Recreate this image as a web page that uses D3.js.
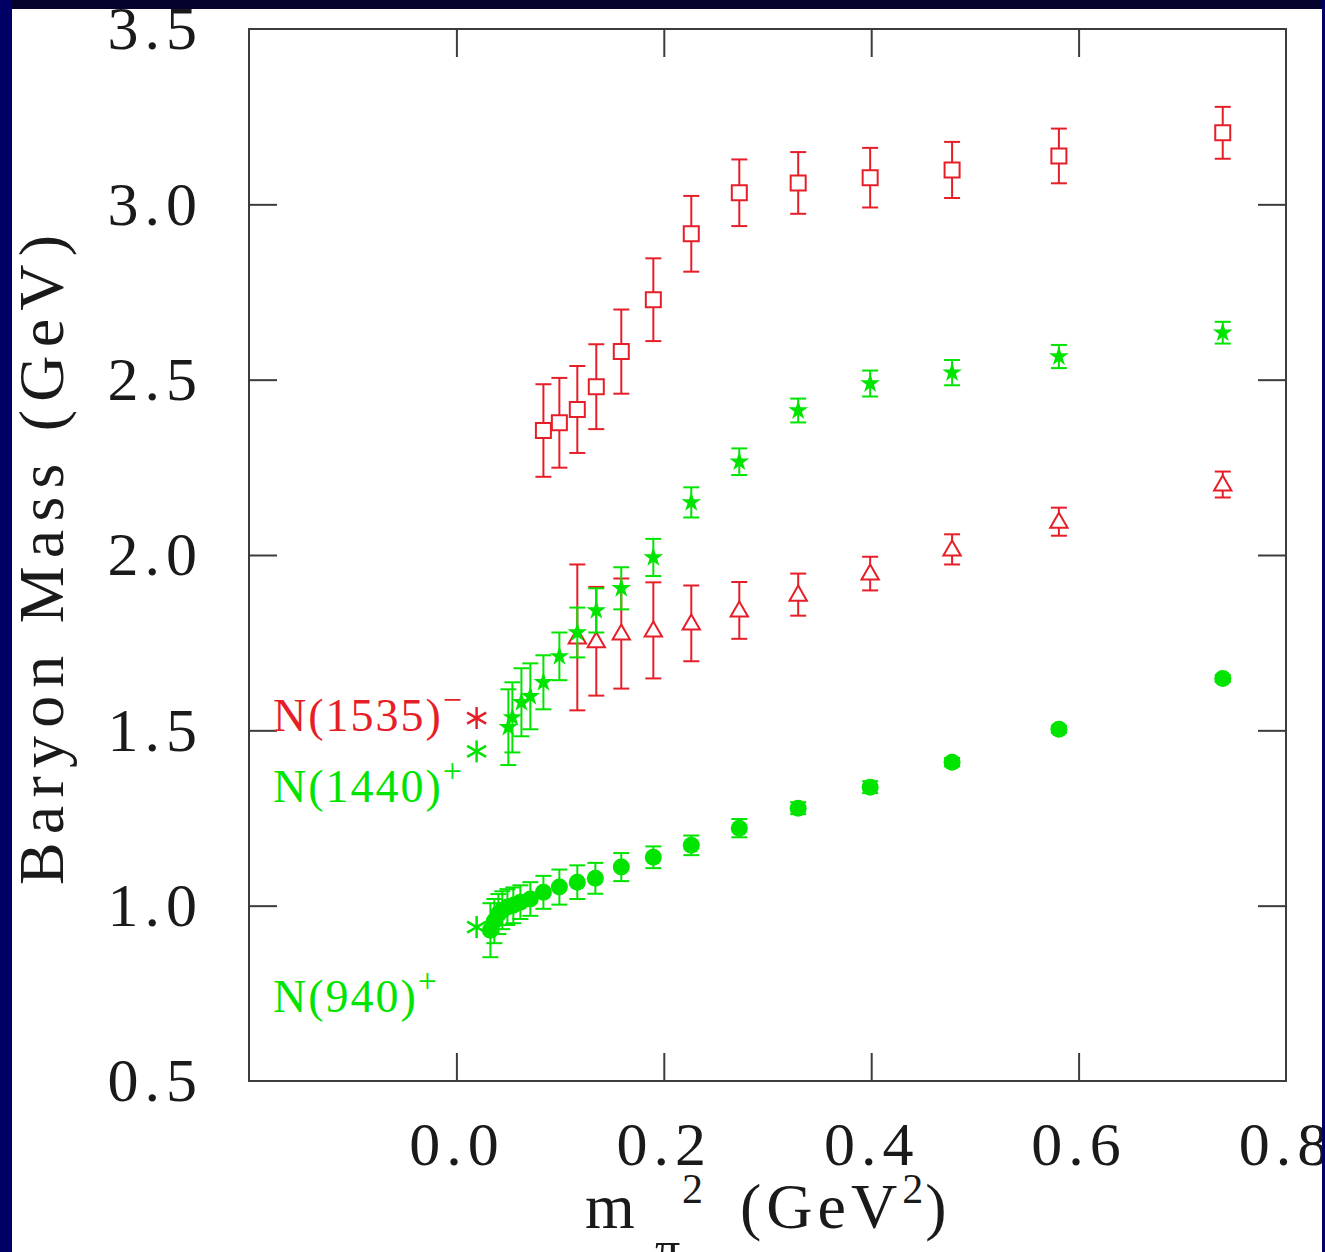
<!DOCTYPE html>
<html>
<head>
<meta charset="utf-8">
<script src="https://cdn.jsdelivr.net/npm/d3@7"></script>
<style>
  html, body { margin: 0; padding: 0; background: #000050; }
  svg { display: block; }
</style>
</head>
<body>
<script>
// ---------- data ----------
const xTicks = [0.0, 0.2, 0.4, 0.6, 0.8];
const yTicks = [0.5, 1.0, 1.5, 2.0, 2.5, 3.0, 3.5];

// nucleon N(940)+ : filled green circles
const nucleonX   = [0.0328,0.0366,0.0405,0.0443,0.0492,0.0549,0.0617,0.0713,0.0839,0.0993,0.1166,0.1340,0.1590,0.1899,0.2265,0.2728,0.3296,0.3990,0.4780,0.5810,0.7390];
const nucleonM   = [0.930,0.956,0.976,0.987,0.996,1.001,1.010,1.019,1.038,1.053,1.067,1.078,1.110,1.138,1.172,1.221,1.278,1.338,1.409,1.503,1.648];
const nucleonErr = [0.077,0.063,0.057,0.054,0.051,0.051,0.048,0.048,0.047,0.050,0.048,0.044,0.040,0.031,0.028,0.026,0.017,0.017,0.012,0.010,0.010];

// first positive-parity excitation N(1440)+ : filled green stars
const roperX   = [0.0501,0.0540,0.0627,0.0713,0.0839,0.0993,0.1166,0.1349,0.1590,0.1899,0.2265,0.2728,0.3296,0.3990,0.4780,0.5810,0.7390];
const roperM   = [1.509,1.537,1.580,1.597,1.637,1.711,1.779,1.842,1.905,1.993,2.150,2.266,2.412,2.489,2.520,2.566,2.634];
const roperErr = [0.108,0.100,0.097,0.094,0.077,0.068,0.071,0.063,0.060,0.053,0.043,0.038,0.034,0.037,0.036,0.033,0.031];

// negative parity N(1535)- : open red triangles
const s11X   = [0.1166,0.1349,0.1590,0.1899,0.2265,0.2728,0.3296,0.3990,0.4780,0.5810,0.7390];
const s11M   = [1.765,1.754,1.776,1.785,1.805,1.842,1.887,1.947,2.016,2.095,2.201];
const s11Err = [0.208,0.155,0.157,0.137,0.108,0.081,0.060,0.048,0.043,0.040,0.037];

// higher negative parity state : open red squares
const sqX   = [0.0839,0.0993,0.1166,0.1349,0.1590,0.1899,0.2265,0.2728,0.3296,0.3990,0.4780,0.5810,0.7390];
const sqM   = [2.355,2.377,2.415,2.480,2.580,2.728,2.916,3.033,3.061,3.076,3.098,3.138,3.204];
const sqErr = [0.132,0.128,0.124,0.121,0.120,0.118,0.108,0.095,0.088,0.085,0.080,0.078,0.074];

// physical points (asterisks)
const physX = 0.0195;
const physNames  = ["N(1535)", "N(1440)", "N(940)"];
const physSup    = ["\u2212", "+", "+"];
const physMasses = [1.535, 1.44, 0.939];
const physColors = ["red", "green", "green"];

// ---------- drawing ----------
const W = 1325, H = 1252;
const RED = "#e61e28", GREEN = "#00e400";
const colorOf = c => c === "red" ? RED : GREEN;
const FONT = "'Liberation Serif', 'Times New Roman', serif";

const svg = d3.select("body").append("svg").attr("width", W).attr("height", H);
svg.append("rect").attr("width", W).attr("height", H).attr("fill", "#000060");
svg.append("rect").attr("x", 12).attr("y", 9).attr("width", 1310).attr("height", H - 9).attr("fill", "#ffffff");

const L = 249, R = 1286, T = 29, B = 1081;
const x = d3.scaleLinear().domain([-0.2, 0.8]).range([L, R]);
const y = d3.scaleLinear().domain([0.5, 3.5]).range([B, T]);

// frame
svg.append("rect").attr("x", L).attr("y", T).attr("width", R - L).attr("height", B - T)
  .attr("fill", "none").attr("stroke", "#3c3c3c").attr("stroke-width", 2);

function styleAxis(g) {
  g.select(".domain").remove();
  g.selectAll(".tick line").attr("stroke", "#3c3c3c").attr("stroke-width", 2);
  g.selectAll("text").attr("font-family", FONT).attr("font-size", 62)
    .attr("fill", "#1a1a1a").style("letter-spacing", "6px");
}
const inner = [0.0, 0.2, 0.4, 0.6];
const innerY = [1.0, 1.5, 2.0, 2.5, 3.0];

svg.append("g").attr("transform", `translate(0,${B})`)
  .call(d3.axisBottom(x).tickValues(xTicks).tickSize(-28).tickSizeOuter(0).tickPadding(40).tickFormat(d3.format(".1f")))
  .call(styleAxis)
  .call(g => g.selectAll(".tick").filter(d => d === 0.8).select("line").remove())
  .call(g => g.selectAll("text").attr("dx", 0));
svg.append("g").attr("transform", `translate(0,${T})`)
  .call(d3.axisTop(x).tickValues(inner).tickSize(-28).tickSizeOuter(0).tickFormat(""))
  .call(styleAxis);
svg.append("g").attr("transform", `translate(${L},0)`)
  .call(d3.axisLeft(y).tickValues(yTicks).tickSize(-28).tickSizeOuter(0).tickPadding(46).tickFormat(d3.format(".1f")))
  .call(styleAxis)
  .call(g => g.selectAll(".tick").filter(d => d === 0.5 || d === 3.5).select("line").remove());
svg.append("g").attr("transform", `translate(${R},0)`)
  .call(d3.axisRight(y).tickValues(innerY).tickSize(-28).tickSizeOuter(0).tickFormat(""))
  .call(styleAxis);

// axis titles
svg.append("text")
  .attr("transform", `translate(63,${(235 + 885) / 2}) rotate(-90)`)
  .attr("text-anchor", "middle").attr("font-family", FONT).attr("font-size", 64).attr("fill", "#1a1a1a")
  .attr("textLength", 650).attr("lengthAdjust", "spacing")
  .text("Baryon Mass (GeV)");

const xt = svg.append("g").attr("font-family", FONT).attr("fill", "#1a1a1a");
xt.append("text").attr("x", 585).attr("y", 1228).attr("font-size", 64).text("m");
xt.append("text").attr("x", 655).attr("y", 1266).attr("font-size", 50).text("\u03c0");
xt.append("text").attr("x", 682).attr("y", 1203).attr("font-size", 42).text("2");
const gev = xt.append("text").attr("x", 740).attr("y", 1228).attr("font-size", 64).style("letter-spacing", "5px");
gev.append("tspan").text("(GeV");
gev.append("tspan").attr("dy", -25).attr("font-size", 42).style("letter-spacing", "2px").text("2");
gev.append("tspan").attr("dy", 25).text(")");

// error bars + markers
function errorBars(xs, ms, es, color) {
  const g = svg.append("g").attr("stroke", color).attr("stroke-width", 2).attr("fill", "none");
  xs.forEach((xv, i) => {
    const e = es[i];
    if (!(e > 0)) return;
    const cx = x(xv), y0 = y(ms[i] - e), y1 = y(ms[i] + e);
    g.append("line").attr("x1", cx).attr("x2", cx).attr("y1", y0).attr("y2", y1);
    g.append("line").attr("x1", cx - 8).attr("x2", cx + 8).attr("y1", y0).attr("y2", y0);
    g.append("line").attr("x1", cx - 8).attr("x2", cx + 8).attr("y1", y1).attr("y2", y1);
  });
}

// squares
errorBars(sqX, sqM, sqErr, RED);
svg.append("g").selectAll("path").data(sqX).join("path")
  .attr("d", d3.symbol(d3.symbolSquare, 225))
  .attr("transform", (d, i) => `translate(${x(d)},${y(sqM[i])})`)
  .attr("fill", "#fff").attr("stroke", RED).attr("stroke-width", 2);

// triangles
errorBars(s11X, s11M, s11Err, RED);
svg.append("g").selectAll("path").data(s11X).join("path")
  .attr("d", d3.symbol(d3.symbolTriangle, 130))
  .attr("transform", (d, i) => `translate(${x(d)},${y(s11M[i]) + 1})`)
  .attr("fill", "#fff").attr("stroke", RED).attr("stroke-width", 2);

// stars
errorBars(roperX, roperM, roperErr, GREEN);
svg.append("g").selectAll("path").data(roperX).join("path")
  .attr("d", d3.symbol(d3.symbolStar, 120))
  .attr("transform", (d, i) => `translate(${x(d)},${y(roperM[i])})`)
  .attr("fill", GREEN);

// circles
errorBars(nucleonX, nucleonM, nucleonErr, GREEN);
svg.append("g").selectAll("circle").data(nucleonX).join("circle")
  .attr("cx", d => x(d)).attr("cy", (d, i) => y(nucleonM[i])).attr("r", 8.5)
  .attr("fill", GREEN);

// physical asterisks
physMasses.forEach((m, i) => {
  const g = svg.append("g").attr("transform", `translate(${x(physX)},${y(m)})`)
    .attr("stroke", colorOf(physColors[i])).attr("stroke-width", 2.5);
  [90, 30, 150].forEach(a => {
    const r = 11, rad = a * Math.PI / 180;
    g.append("line").attr("x1", -r * Math.cos(rad)).attr("y1", -r * Math.sin(rad))
      .attr("x2", r * Math.cos(rad)).attr("y2", r * Math.sin(rad));
  });
});

// state labels
const labelBase = [731, 802, 1012];
physNames.forEach((n, i) => {
  const t = svg.append("text").attr("x", 273).attr("y", labelBase[i])
    .attr("font-family", FONT).attr("font-size", 46).attr("fill", colorOf(physColors[i]))
    .style("letter-spacing", "2px");
  t.append("tspan").text(n);
  t.append("tspan").attr("dy", -20).attr("font-size", 34).text(physSup[i]);
});

// border bands drawn on top (clip text like the reference)
svg.append("rect").attr("x", 0).attr("y", 0).attr("width", W).attr("height", 9).attr("fill", "#03032e");
svg.append("rect").attr("x", 0).attr("y", 0).attr("width", 12).attr("height", H).attr("fill", "#000064");
svg.append("rect").attr("x", 1322).attr("y", 0).attr("width", 3).attr("height", H).attr("fill", "#000064");
</script>
</body>
</html>
